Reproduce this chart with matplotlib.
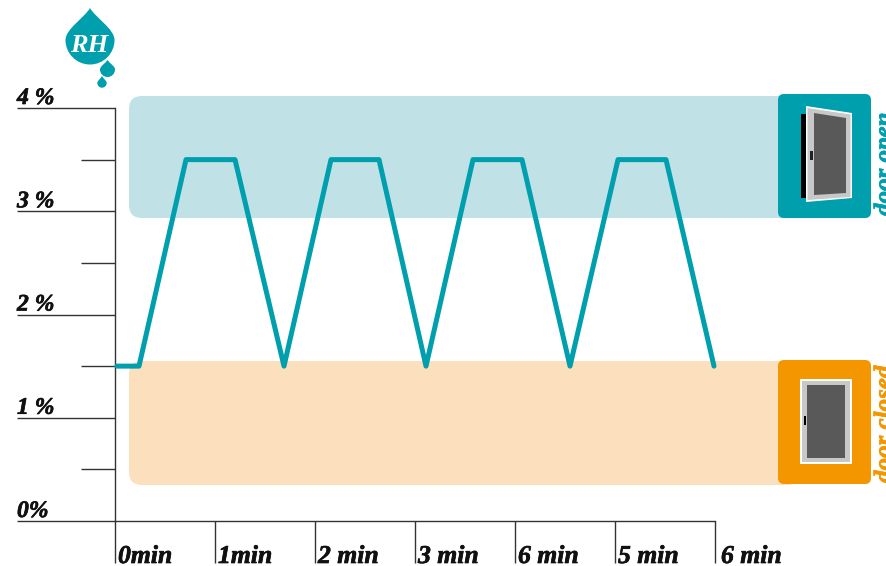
import matplotlib
matplotlib.use("Agg")
import matplotlib.pyplot as plt
import matplotlib.patheffects as pe
from matplotlib.patches import FancyBboxPatch, PathPatch, Polygon, Rectangle
from matplotlib.path import Path

# datos
time_min = [0.02, 0.24, 0.71, 1.20, 1.69, 2.16, 2.64, 3.11, 3.58, 4.07, 4.55, 5.03, 5.51, 5.99]
rh = [1.5, 1.5, 3.5, 3.5, 1.5, 3.5, 3.5, 1.5, 3.5, 3.5, 1.5, 3.5, 3.5, 1.5]
x_ticks = [0, 1, 2, 3, 4, 5, 6]
x_labels = ["0min", "1min", "2 min", "3 min", "6 min", "5 min", "6 min"]
y_major = [0, 1, 2, 3, 4]
y_minor = [0.5, 1.5, 2.5, 3.5]
y_labels = ["0%", "1 %", "2 %", "3 %", "4 %"]

TEAL = "#009fae"
ORANGE = "#f39600"
W, H = 886, 566
SERIF = dict(family="Liberation Serif", weight="bold", style="italic")

fig = plt.figure(figsize=(W / 100, H / 100), dpi=100)

# capa de fondo en pixeles, para bandas e iconos
bg = fig.add_axes([0, 0, 1, 1], zorder=0)
bg.set_xlim(0, W)
bg.set_ylim(H, 0)
bg.axis("off")


def round_box(x0, y0, x1, y1, r, color, z=1):
    bg.add_patch(FancyBboxPatch((x0 + r, y0 + r), x1 - x0 - 2 * r, y1 - y0 - 2 * r,
                                boxstyle=f"round,pad={r},rounding_size={r}",
                                fc=color, ec="none", zorder=z))


def drop(cx, cy, r, tip):
    k = 0.5523 * r
    h = cy - tip
    verts = [(cx, tip),
             (cx + 0.22 * r, tip + 0.3 * h), (cx + r, cy - 0.45 * r), (cx + r, cy),
             (cx + r, cy + k), (cx + k, cy + r), (cx, cy + r),
             (cx - k, cy + r), (cx - r, cy + k), (cx - r, cy),
             (cx - r, cy - 0.45 * r), (cx - 0.22 * r, tip + 0.3 * h), (cx, tip),
             (cx, tip)]
    codes = [Path.MOVETO] + [Path.CURVE4] * 12 + [Path.CLOSEPOLY]
    bg.add_patch(PathPatch(Path(verts, codes), fc=TEAL, ec="none", zorder=3))


# bandas
round_box(129, 96, 800, 218, 13, "#c0e2e6")
round_box(129, 361, 800, 485, 13, "#fcdfbd")

# icono puerta abierta
round_box(778, 94, 871, 218, 6, TEAL, 2)
bg.add_patch(Rectangle((801, 114), 5, 84, fc="black", zorder=3))
bg.add_patch(Polygon([(806, 106), (852, 113), (852, 198), (806, 202)], fc="white", zorder=3))
bg.add_patch(Polygon([(807.5, 108), (850.5, 114.5), (850.5, 197), (807.5, 200)], fc="#c8c8c8", zorder=3))
bg.add_patch(Polygon([(814, 113), (846, 118), (846, 193), (814, 195)], fc="#595959", zorder=4))
bg.add_patch(Rectangle((810, 151), 3, 9, fc="#222222", zorder=5))

# icono puerta cerrada
round_box(778, 360, 871, 484, 6, ORANGE, 2)
bg.add_patch(Rectangle((800, 379), 52, 85, fc="white", zorder=3))
bg.add_patch(Rectangle((802, 381), 48, 81, fc="#c8c8c8", zorder=3))
bg.add_patch(Rectangle((807, 385), 38, 73, fc="#595959", zorder=4))
bg.add_patch(Rectangle((804, 416), 2, 9, fc="black", zorder=5))

# gotas
drop(90, 40, 24.5, 8)
drop(107.5, 69.5, 7.5, 60)
drop(102, 83, 4.7, 76)
bg.text(89.5, 45, "RH", color="white", fontsize=19, ha="center", va="center", zorder=5, **SERIF)

for label, y, color in [("door open", 216, TEAL), ("door closed", 483, ORANGE)]:
    t = bg.text(873, y, label, color=color, rotation=90, fontsize=18, ha="left", va="top",
                rotation_mode="anchor", zorder=5, **SERIF)
    t.set_path_effects([pe.withStroke(linewidth=0.5, foreground=color)])

# grafico
ax = fig.add_axes([115 / W, 45 / H, 600 / W, 413 / H], zorder=1)
ax.patch.set_visible(False)
ax.set_xlim(0, 6)
ax.set_ylim(0, 4)
for s in ["top", "right"]:
    ax.spines[s].set_visible(False)
for s in ["left", "bottom"]:
    ax.spines[s].set_color("#333333")
    ax.spines[s].set_linewidth(1)

ax.plot(time_min, rh, color=TEAL, lw=3.6, solid_joinstyle="round", solid_capstyle="round",
        clip_on=False, zorder=5)

px = 72 / 100
ax.set_xticks(x_ticks)
ax.set_xticklabels([])
ax.set_yticks(y_major)
ax.set_yticklabels([])
ax.set_yticks(y_minor, minor=True)
ax.tick_params(axis="x", length=42 * px, width=1, color="#333333")
ax.tick_params(axis="y", which="major", length=98 * px, width=1, color="#333333")
ax.tick_params(axis="y", which="minor", length=34 * px, width=1, color="#333333")

heavy = [pe.withStroke(linewidth=0.5, foreground="#111111")]
for t, lab in zip(x_ticks, x_labels):
    dx = 6 if t == 6 else 3
    ax.annotate(lab, (t, 0), xytext=(dx, -42), textcoords="offset pixels", ha="left", va="baseline",
                fontsize=18.5, color="#111111", annotation_clip=False, path_effects=heavy, **SERIF)
for v, lab in zip(y_major, y_labels):
    ax.annotate(lab, (0, v), xytext=(-98, 4), textcoords="offset pixels", ha="left", va="baseline",
                fontsize=17, color="#111111", annotation_clip=False, path_effects=heavy, **SERIF)

fig.savefig("out.png", dpi=100)
